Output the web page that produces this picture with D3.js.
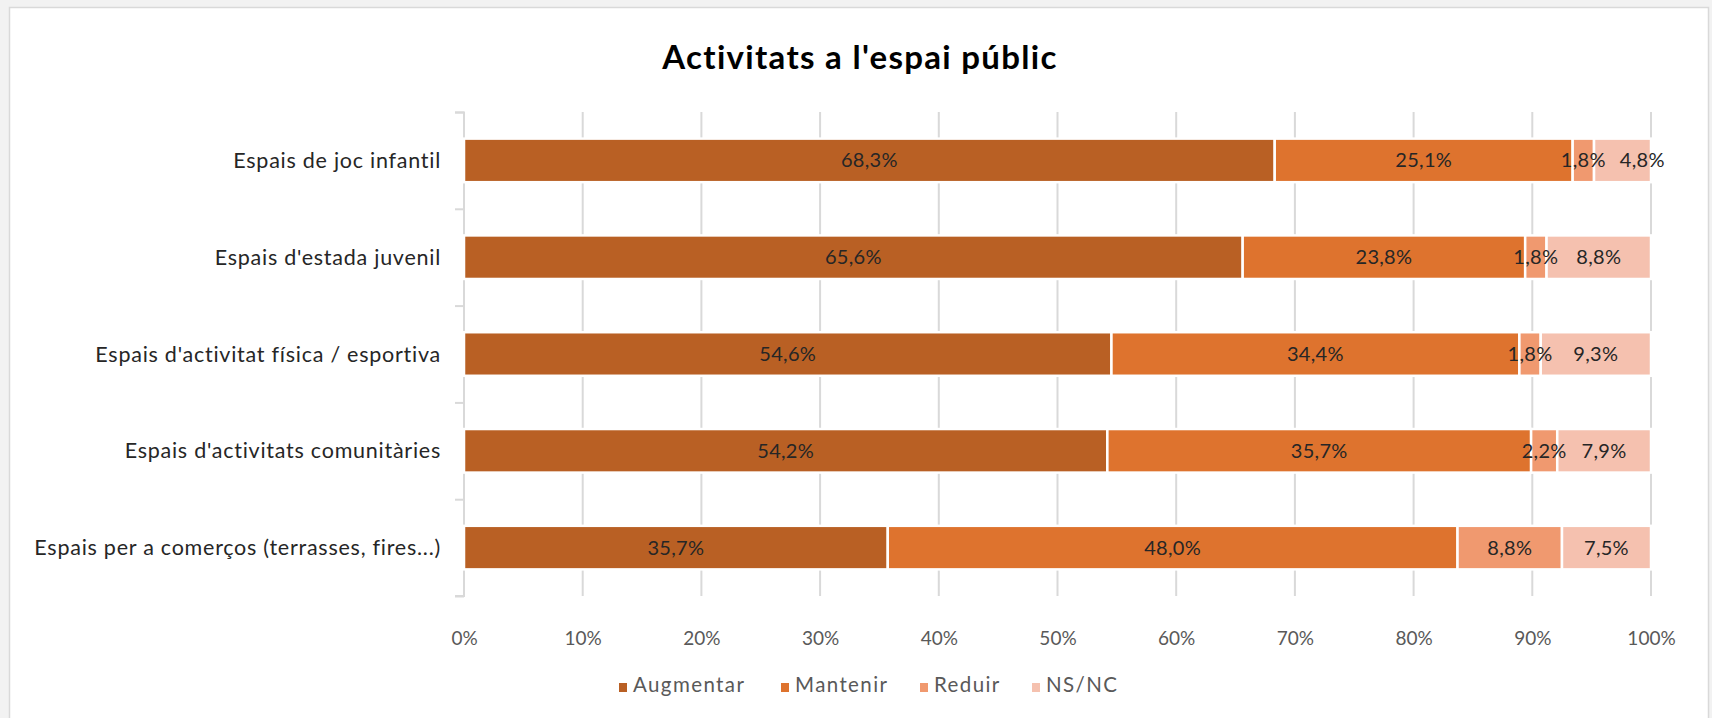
<!DOCTYPE html>
<html>
<head>
<meta charset="utf-8">
<script src="https://cdn.jsdelivr.net/npm/d3@7"></script>
<style>
  body { margin: 0; background: #f2f2f2; }
  text { font-family: Lato, "Open Sans", sans-serif; }
</style>
</head>
<body>
<div id="chart"></div>
<script>
// data
var categories = [
    "Espais de joc infantil",
    "Espais d'estada juvenil",
    "Espais d'activitat física / esportiva",
    "Espais d'activitats comunitàries",
    "Espais per a comerços (terrasses, fires...)"
];
var seriesNames = ["Augmentar", "Mantenir", "Reduir", "NS/NC"];
var augmentar = [68.3, 65.6, 54.6, 54.2, 35.7];
var mantenir = [25.1, 23.8, 34.4, 35.7, 48.0];
var reduir = [1.8, 1.8, 1.8, 2.2, 8.8];
var nsnc = [4.8, 8.8, 9.3, 7.9, 7.5];
var xTicks = [0, 0.1, 0.2, 0.3, 0.4, 0.5, 0.6, 0.7, 0.8, 0.9, 1];
var colors = ["#b96024", "#de732e", "#f0996f", "#f5c1af"];

var W = 1712, H = 718;
var margin = {top: 112, right: 61, bottom: 122, left: 464};
var width = W - margin.left - margin.right;
var height = H - margin.top - margin.bottom;

var rows = categories.map(function (c, i) {
    return {cat: c, "Augmentar": augmentar[i], "Mantenir": mantenir[i], "Reduir": reduir[i], "NS/NC": nsnc[i]};
});

var locale = d3.formatLocale({decimal: ",", thousands: ".", grouping: [3], currency: ["", " €"]});
var fmt = locale.format(".1f");

var svg = d3.select("#chart").append("svg")
    .attr("width", W)
    .attr("height", H);

// background + chart frame
svg.append("rect").attr("width", W).attr("height", H).attr("fill", "#f2f2f2");
svg.append("rect")
    .attr("x", 9.5).attr("y", 7.5)
    .attr("width", 1699).attr("height", 730)
    .attr("fill", "#ffffff")
    .attr("stroke", "#d9d9d9")
    .attr("stroke-width", 1.5);

svg.append("text")
    .attr("x", 860)
    .attr("y", 69)
    .attr("text-anchor", "middle")
    .attr("font-size", 33)
    .attr("font-weight", "bold")
    .attr("letter-spacing", 1.3)
    .attr("fill", "#000")
    .text("Activitats a l'espai públic");

var g = svg.append("g")
    .attr("transform", "translate(" + margin.left + "," + margin.top + ")");

var x = d3.scaleLinear().domain([0, 1]).range([0, width]);
var y = d3.scaleBand().domain(categories).range([0, height])
    .paddingInner(0.55).paddingOuter(0.275);
var bounds = d3.scaleLinear().domain([0, categories.length]).range([0, height]);

// vertical gridlines
g.selectAll(".grid")
    .data(xTicks.slice(1))
    .enter()
    .append("line")
    .attr("class", "grid")
    .attr("x1", function (d) { return x(d); })
    .attr("x2", function (d) { return x(d); })
    .attr("y1", 0)
    .attr("y2", height)
    .attr("stroke", "#d9d9d9")
    .attr("stroke-width", 2);

// left axis: line with ticks at category boundaries
var yAxis = g.append("g")
    .call(d3.axisLeft(bounds).tickValues(d3.range(categories.length + 1)).tickSize(9).tickFormat(""));
yAxis.selectAll("path, line").attr("stroke", "#d9d9d9").attr("stroke-width", 2);
yAxis.select(".domain").attr("d", "M-9,0.5H0V" + height + "H-9");

// category labels
g.selectAll(".cat")
    .data(categories)
    .enter()
    .append("text")
    .attr("class", "cat")
    .attr("x", -23)
    .attr("y", function (d) { return y(d) + y.bandwidth() / 2; })
    .attr("dy", "0.35em")
    .attr("text-anchor", "end")
    .attr("font-size", 21.5)
    .attr("letter-spacing", 0.75)
    .attr("fill", "#262626")
    .text(function (d) { return d; });

// bottom axis labels
var xAxis = g.append("g")
    .attr("transform", "translate(0," + height + ")")
    .call(d3.axisBottom(x).tickValues(xTicks).tickSize(0).tickPadding(36).tickFormat(d3.format(".0%")));
xAxis.select(".domain").remove();
xAxis.selectAll("text")
    .attr("font-size", 19)
    .attr("fill", "#595959")
    .style("font-family", "Lato, sans-serif");

var stacked = d3.stack().keys(seriesNames).offset(d3.stackOffsetExpand)(rows);

var layers = g.selectAll(".layer")
    .data(stacked)
    .enter()
    .append("g")
    .attr("class", "layer")
    .attr("fill", function (d, i) { return colors[i]; });

layers.selectAll("rect")
    .data(function (d) { return d; })
    .enter()
    .append("rect")
    .attr("x", function (d) { return x(d[0]); })
    .attr("y", function (d) { return y(d.data.cat); })
    .attr("width", function (d) { return x(d[1]) - x(d[0]); })
    .attr("height", y.bandwidth())
    .attr("stroke", "#ffffff")
    .attr("stroke-width", 2.5);

// value labels, centred on each segment, pushed right when they would collide
var labelG = g.append("g");
rows.forEach(function (row, r) {
    var lastEnd = -Infinity;
    stacked.forEach(function (layer) {
        var seg = layer[r];
        var cx = (x(seg[0]) + x(seg[1])) / 2;
        var t = labelG.append("text")
            .attr("y", y(row.cat) + y.bandwidth() / 2)
            .attr("dy", "0.35em")
            .attr("font-size", 20)
            .attr("letter-spacing", 0.3)
            .attr("fill", "#262626")
            .text(fmt(row[layer.key]) + "%");
        var w = t.node().getComputedTextLength();
        var left = cx - w / 2;
        if (left < lastEnd + 4) {
            left = lastEnd + 14;
        }
        t.attr("x", left);
        lastEnd = left + w;
    });
});

// legend
var legendX = [619, 781, 920, 1032];
var legend = svg.append("g")
    .attr("transform", "translate(0,685)");
var items = legend.selectAll(".item")
    .data(seriesNames)
    .enter()
    .append("g")
    .attr("class", "item")
    .attr("transform", function (d, i) { return "translate(" + legendX[i] + ",0)"; });
items.append("rect")
    .attr("x", 0)
    .attr("y", -2)
    .attr("width", 8)
    .attr("height", 9)
    .attr("fill", function (d, i) { return colors[i]; });
items.append("text")
    .attr("x", 14)
    .attr("y", 0)
    .attr("dy", "0.35em")
    .attr("font-size", 20.5)
    .attr("letter-spacing", 1.4)
    .attr("fill", "#595959")
    .text(function (d) { return d; });
</script>
</body>
</html>
